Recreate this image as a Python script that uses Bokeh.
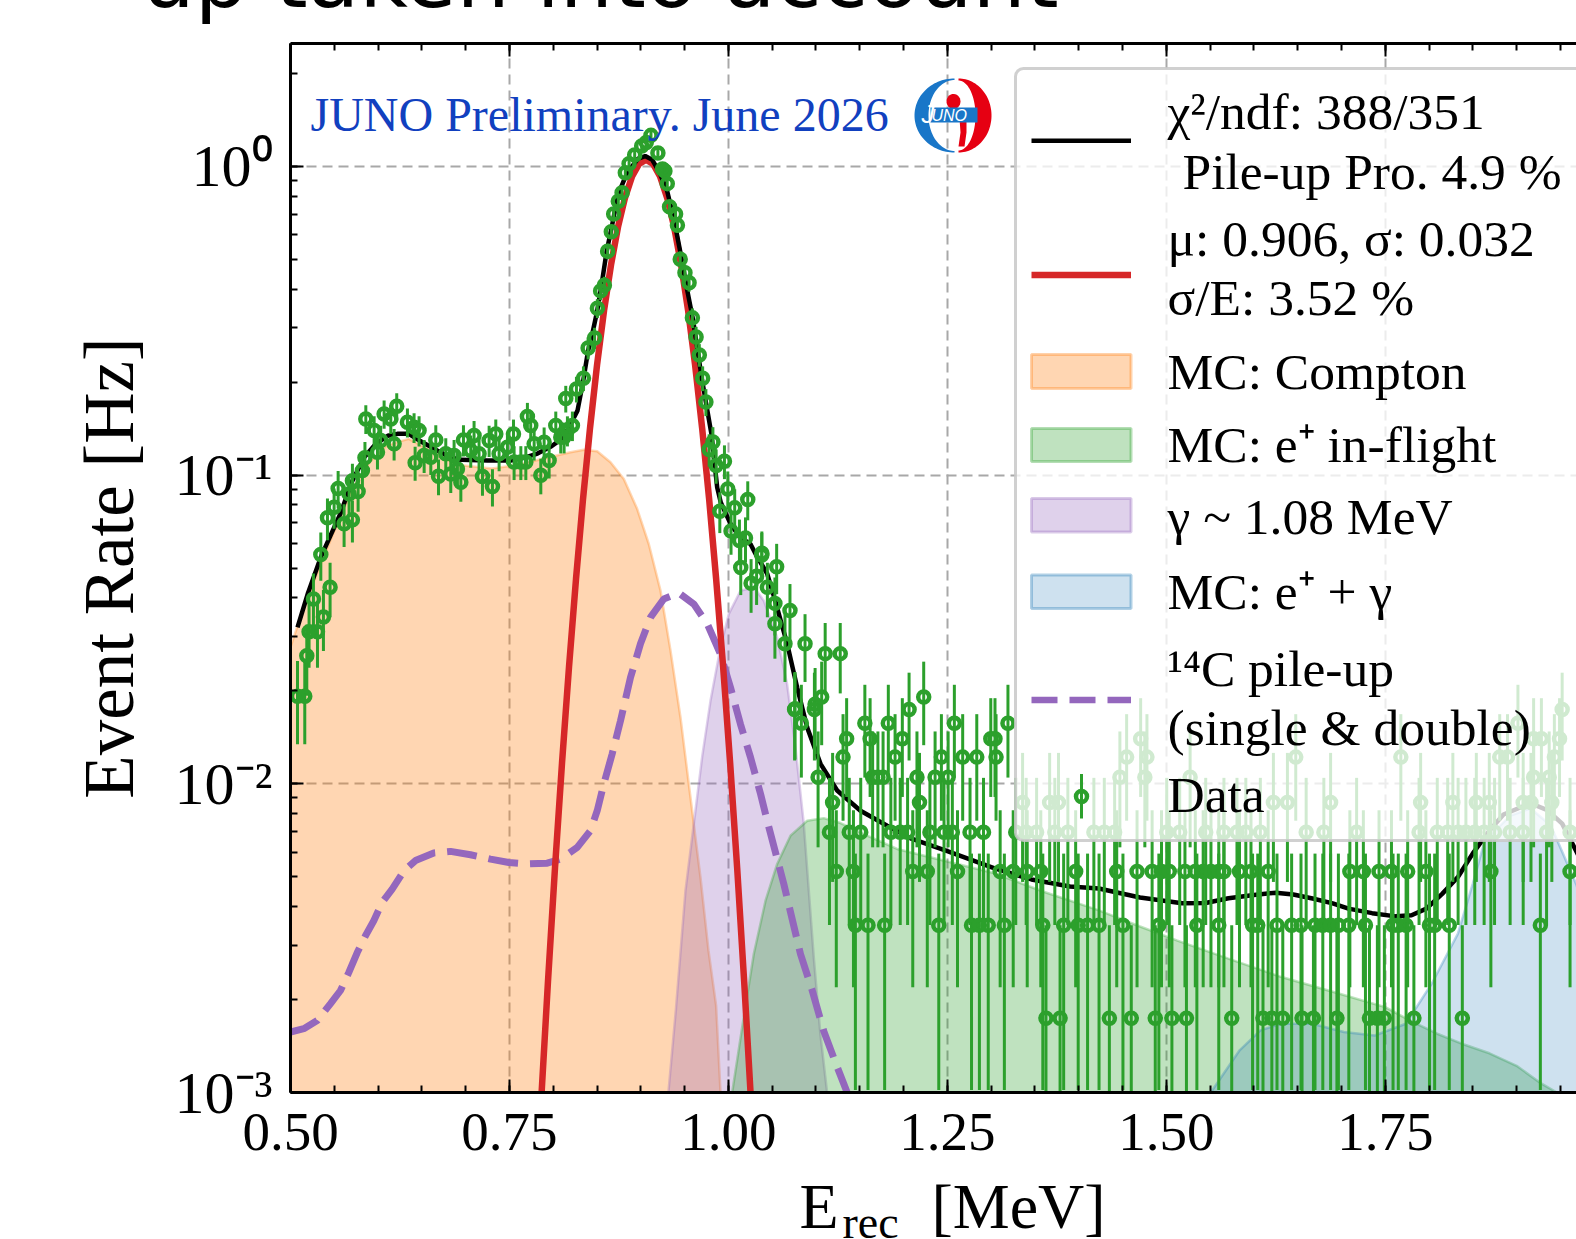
import numpy as np
from bokeh.plotting import figure
from bokeh.embed import file_html
from bokeh.resources import INLINE
from bokeh.models import (LinearAxis, SingleIntervalTicker, Label, BoxAnnotation, Range1d, NumeralTickFormatter)

# ---------- values ----------
compton_x = [0.5,0.514,0.53,0.55,0.57,0.59,0.61,0.635,0.66,0.69,0.73,0.76,0.80,0.8197,0.8349,0.8502,0.8654,0.8806,0.8959,0.9091,0.9225,0.9339,0.9453,0.9548,0.9624,0.9681,0.9773,0.986,0.991]
compton_y = [0.0277,0.0365,0.048,0.066,0.09,0.11,0.125,0.131,0.120,0.108,0.105,0.108,0.115,0.1185,0.1208,0.1194,0.11,0.0971,0.0776,0.0598,0.0422,0.027,0.0164,0.00998,0.0067,0.00498,0.00288,0.00191,0.001]

gamma_x = [0.9315,0.94,0.951,0.9605,0.97,0.9796,0.991,1.0005,1.0138,1.029,1.0404,1.0557,1.0671,1.0766,1.0861,1.0975,1.105,1.1127]
gamma_y = [0.001,0.00185,0.00451,0.00741,0.0122,0.0186,0.0277,0.0355,0.0422,0.0433,0.0392,0.0298,0.021,0.0131,0.00741,0.00274,0.00155,0.001]

inflight_x = [1.0043,1.0158,1.029,1.0424,1.0557,1.0709,1.09,1.1089,1.128,1.1585,1.1927,1.25,1.304,1.36,1.423,1.47,1.512,1.57,1.6307,1.69,1.75,1.78,1.8094,1.84,1.869,1.90,1.928,1.946]
inflight_y = [0.001,0.00163,0.00281,0.00418,0.0055,0.00679,0.00759,0.00774,0.00746,0.00679,0.00615,0.0056,0.00513,0.00447,0.00389,0.00345,0.00311,0.00272,0.00237,0.00212,0.00189,0.0017,0.00155,0.00143,0.00134,0.00122,0.00107,0.001]

annih_x = [1.5508,1.5837,1.6075,1.6307,1.6668,1.7027,1.738,1.7735,1.803,1.833,1.85,1.8637,1.893,1.916,1.939,1.9687,1.98]
annih_y = [0.001,0.00137,0.00159,0.00167,0.00167,0.00157,0.00153,0.00167,0.00225,0.00327,0.00475,0.00655,0.00789,0.00832,0.00733,0.00468,0.0035]

pileup_x = [0.5,0.5152,0.5305,0.5457,0.5571,0.5666,0.5762,0.5856,0.5951,0.6047,0.6161,0.6294,0.6427,0.6636,0.6827,0.7055,0.7284,0.7493,0.7703,0.7931,0.8083,0.8274,0.8425,0.8502,0.8577,0.8673,0.8768,0.8882,0.8996,0.911,0.9262,0.9434,0.9605,0.9758,0.991,1.0024,1.0138,1.0252,1.0367,1.0443,1.0633,1.0823,1.0957,1.1089,1.1242,1.1356]
pileup_y = [0.00157,0.00161,0.00171,0.00194,0.00214,0.00245,0.00284,0.00322,0.0036,0.00413,0.00456,0.00522,0.00564,0.00597,0.00604,0.00589,0.0057,0.00556,0.0055,0.00553,0.0057,0.00622,0.00705,0.00818,0.00998,0.0125,0.016,0.0221,0.0284,0.0346,0.0397,0.0415,0.0382,0.033,0.0263,0.0205,0.0156,0.0122,0.00927,0.00759,0.00473,0.00281,0.00214,0.00158,0.00121,0.001]

peak_x = [0.786,0.794,0.802,0.81,0.818,0.826,0.834,0.842,0.85,0.858,0.866,0.874,0.882,0.89,0.898,0.906,0.914,0.922,0.93,0.938,0.946,0.954,0.962,0.97,0.978,0.986,0.994,1.002,1.01,1.018,1.026]
peak_y = [0.00092,0.00229,0.00534,0.01166,0.0239,0.0461,0.0836,0.142,0.227,0.341,0.48,0.637,0.792,0.927,1.018,1.05,1.018,0.927,0.792,0.637,0.48,0.341,0.227,0.142,0.0836,0.0461,0.0239,0.01166,0.00534,0.00229,0.00092]

total_x = [0.508,0.52,0.5346,0.546,0.557,0.57,0.584,0.597,0.611,0.622,0.635,0.65,0.668,0.68,0.694,0.725,0.7515,0.77,0.782,0.798,0.812,0.8277,0.834,0.8397,0.845,0.85,0.855,0.861,0.867,0.874,0.882,0.89,0.897,0.905,0.913,0.921,0.93,0.938,0.9457,0.952,0.9595,0.9698,0.9806,0.9872,0.9913,1.0024,1.0125,1.0252,1.0315,1.0443,1.0524,1.0671,1.0785,1.09,1.1052,1.1242,1.1508,1.1813,1.209,1.25,1.304,1.346,1.39,1.423,1.47,1.518,1.545,1.571,1.6,1.625,1.645,1.667,1.69,1.708,1.735,1.762,1.78,1.797,1.815,1.833,1.85,1.869,1.885,1.916,1.935,1.952,1.97,1.985]
total_y = [0.0321,0.0415,0.0542,0.064,0.075,0.095,0.114,0.126,0.134,0.136,0.136,0.128,0.12,0.115,0.112,0.1114,0.1114,0.1145,0.1174,0.124,0.1325,0.1617,0.2,0.252,0.29,0.338,0.41,0.531,0.64,0.81,0.92,1.0,1.06,1.08,1.05,0.96,0.834,0.67,0.517,0.41,0.32,0.204,0.136,0.0912,0.0815,0.0695,0.0632,0.0598,0.0552,0.0479,0.0401,0.0284,0.0205,0.0152,0.0116,0.00951,0.00818,0.00731,0.00664,0.00605,0.00532,0.0049,0.00465,0.00458,0.00428,0.0041,0.00411,0.00426,0.00436,0.00444,0.00438,0.00425,0.0041,0.00394,0.00381,0.00372,0.00375,0.00394,0.0044,0.00499,0.00595,0.00706,0.00795,0.00865,0.00822,0.00743,0.0059,0.0045]

# data points, below 1.13 MeV read one by one
low_x = [0.508,0.5163,0.5186,0.5212,0.5308,0.5262,0.5376,0.5346,0.5452,0.5422,0.5498,0.5544,0.5612,0.5707,0.5669,0.5772,0.5707,0.5821,0.585,0.5993,0.586,0.5955,0.6069,0.6145,0.6213,0.6183,0.603,0.6335,0.6411,0.6468,0.6423,0.6526,0.6602,0.6659,0.669,0.683,0.6773,0.6868,0.6906,0.6945,0.6975,0.7096,0.7058,0.7153,0.7192,0.7268,0.7306,0.7344,0.7382,0.7477,0.7546,0.7553,0.763,0.7687,0.7705,0.7743,0.7782,0.7858,0.7896,0.7953,0.8029,0.8086,0.8124,0.8219,0.8162,
         0.8143,0.8265,0.8345,0.8398,0.8472,0.8504,0.8541,0.8584,0.8621,0.8663,0.869,0.8743,0.8786,0.8823,0.8866,0.893,0.901,0.9062,0.9116,0.9195,0.9248,0.9275,0.9302,0.9328,0.9397,0.9418,0.945,0.9504,0.9551,0.9589,0.9631,0.9668,0.9706,0.9743,0.978,0.9823,0.986,0.9955,0.9993,1.0072,0.9902,1.003,1.0126,1.0195,1.0221,1.0381,1.0551,1.0141,1.0259,1.0322,1.0445,1.0382,1.0531,1.0703,1.0531,1.0646,1.0875,1.1105,1.1277,1.0761,1.099]
low_y = [0.0192,0.0192,0.026,0.0311,0.0311,0.0397,0.0347,0.0553,0.0433,0.0727,0.0787,0.0905,0.0695,0.0716,0.0869,0.0885,0.0959,0.1034,0.1138,0.1186,0.152,0.1394,0.1577,0.152,0.167,0.1262,0.1295,0.1483,0.1429,0.1394,0.1096,0.1157,0.1142,0.13,0.0991,0.1008,0.1172,0.1157,0.1047,0.0948,0.13,0.1343,0.12,0.1172,0.0989,0.1294,0.0918,0.1359,0.1172,0.123,0.1359,0.1102,0.1102,0.1102,0.1549,0.1447,0.1262,0.0998,0.1277,0.1114,0.1447,0.1327,0.1327,0.1447,0.1394,
         0.177,0.19,0.206,0.258,0.278,0.347,0.395,0.412,0.531,0.614,0.701,0.771,0.822,0.953,1.02,1.089,1.164,1.194,1.26,1.104,0.98,0.966,0.879,0.74,0.701,0.644,0.5,0.452,0.42,0.323,0.28,0.245,0.206,0.1725,0.121,0.128,0.1074,0.1109,0.0902,0.0783,0.0764,0.0659,0.0614,0.0625,0.0834,0.0551,0.0505,0.0502,0.0446,0.047,0.0433,0.0558,0.0384,0.0364,0.033,0.0284,0.0284,0.0264,0.0264,0.0175,0.0181]

# above 1.07 MeV the rate takes discrete levels (1, 2, 3 ... counts)
level_rates = [0.00174,0.00348,0.0052,0.00697,0.0087,0.0105,0.0122,0.014,0.0157,0.0174,0.0191]
level_x = [
 [1.3626,1.3787,1.435,1.46,1.4874,1.5064,1.523,1.5747,1.6104,1.6205,1.633,1.655,1.668,1.6948,1.732,1.741,1.749,1.7827,1.838],
 [1.145,1.1594,1.1784,1.2402,1.2776,1.2866,1.2967,1.3151,1.359,1.3828,1.3994,1.4101,1.4232,1.4505,1.4915,1.5349,1.5599,1.5985,1.6044,1.6264,1.6431,1.6538,1.6698,1.6787,1.6876,1.6965,1.7084,1.7274,1.7589,1.7649,1.7738,1.8005,1.8064,1.8231,1.9271],
 [1.1232,1.1428,1.2105,1.2271,1.2616,1.3103,1.3252,1.3412,1.3567,1.3965,1.4434,1.4666,1.4838,1.4945,1.5034,1.5213,1.5331,1.5421,1.551,1.5599,1.5658,1.5836,1.5967,1.6163,1.7096,1.725,1.7429,1.7571,1.7756,1.7964,1.8706,1.961],
 [1.1154,1.138,1.1511,1.1855,1.1962,1.2046,1.2301,1.2462,1.2557,1.2759,1.2913,1.3281,1.34,1.3519,1.3727,1.3876,1.4173,1.4292,1.441,1.5005,1.5153,1.545,1.5658,1.5807,1.5908,1.6074,1.6597,1.6799,1.7173,1.7886,1.8094,1.8213,1.8332,1.8421,1.8522,1.8629,1.8748,1.8926,1.9075,1.9342,1.961],
 [1.119,1.2182,1.3359,1.3668,1.3769,1.6223,1.6383,1.6876,1.7904,1.8272,1.854,1.8688,1.9075,1.9164,1.9402],
 [1.1024,1.1647,1.1707,1.1766,1.2153,1.236,1.2509,1.447,1.4755,1.5272,1.9194,1.9372],
 [1.1309,1.1903,1.2432,1.2675,1.2836,1.3056,1.4547,1.4779,1.6478,1.7678,1.8807,1.8896,1.9431],
 [1.135,1.1618,1.1986,1.2996,1.3044,1.4707,1.9194,1.9283,1.949],
 [1.0833,1.1558,1.1826,1.258,1.3192,1.9015],
 [1.0756,1.0982,1.2063,1.952],
 [1.1065,1.223],
]

x_tick_interval = 0.25
y_tick_labels = {1: "10\u2070", 0.1: "10\u207b\u00b9", 0.01: "10\u207b\u00b2", 0.001: "10\u207b\u00b3"}
count_rate = 0.00174

# ---------- page geometry ----------
PAGE_W, PAGE_H = 1576, 1239
F_L, F_T, F_B = 290, 43, 1092
# the canvas is taller than the frame needs: side-panel labels (title, x label) take room there
TOP_BORDER, BOTTOM_BORDER = 110, 200
W, H = PAGE_W, TOP_BORDER + (F_B - F_T) + BOTTOM_BORDER
PX_PER_MEV = 875.8
X0, X1 = 0.5, 0.5 + (PAGE_W - F_L) / PX_PER_MEV
Y0, Y1 = 1e-3, 2.5
dec = (F_B - F_T) / np.log10(Y1 / Y0)

def dx(X):
    return X0 + (np.asarray(X, dtype=float) - F_L) / PX_PER_MEV
def dy(Y):
    return Y0 * 10 ** ((F_B - np.asarray(Y, dtype=float)) / dec)

SERIF = "Liberation Serif"

p = figure(width=W, height=H, output_backend="svg", toolbar_location=None,
           y_axis_type="log", x_range=Range1d(X0, X1), y_range=Range1d(Y0, Y1),
           min_border_left=F_L, min_border_right=0, min_border_top=TOP_BORDER,
           min_border_bottom=BOTTOM_BORDER, margin=(F_T - TOP_BORDER, 0, 0, 0),
           outline_line_color=None, background_fill_color="white", border_fill_color="white")

ticker = SingleIntervalTicker(interval=x_tick_interval, num_minor_ticks=5)

def style_ticks(ax):
    ax.major_tick_in = 13; ax.major_tick_out = 0
    ax.minor_tick_in = 7; ax.minor_tick_out = 0
    ax.major_tick_line_width = 2; ax.minor_tick_line_width = 2
    ax.major_tick_line_color = "black"; ax.minor_tick_line_color = "black"
    ax.axis_line_width = 3; ax.axis_line_color = "black"

xa = p.xaxis[0]
xa.ticker = ticker
style_ticks(xa)
xa.formatter = NumeralTickFormatter(format="0.00")
xa.major_label_text_font = SERIF
xa.major_label_text_font_size = "55px"
xa.major_label_standoff = 21
xa.major_label_text_color = "black"

ya = p.yaxis[0]
style_ticks(ya)
ya.ticker.num_minor_ticks = 10
ya.major_label_overrides = y_tick_labels
ya.major_label_text_font = SERIF
ya.major_label_text_font_size = "60px"
ya.major_label_standoff = 18
ya.major_label_text_color = "black"
ya.axis_label = "Event Rate [Hz]"
ya.axis_label_text_font = SERIF
ya.axis_label_text_font_style = "normal"
ya.axis_label_text_font_size = "71px"
ya.axis_label_text_color = "black"
ya.axis_label_standoff = 24

top = LinearAxis(ticker=ticker, major_label_text_font_size="1px", major_label_text_color=None)
style_ticks(top)
p.add_layout(top, "above")

for g in (p.xgrid[0], p.ygrid[0]):
    g.grid_line_color = "#a8a8a8"
    g.grid_line_width = 2
    g.grid_line_dash = "10 6"
    g.minor_grid_line_color = None
p.xgrid[0].ticker = ticker

# ---------- fills ----------
fills = [(compton_x, compton_y, "#ff7f0e", 0.32),
         (gamma_x, gamma_y, "#9467bd", 0.3),
         (inflight_x, inflight_y, "#2ca02c", 0.3),
         (annih_x, annih_y, "#1f77b4", 0.22)]
for fx, fy, col, al in fills:
    p.varea(x=fx, y1=[Y0] * len(fx), y2=fy, fill_color=col, fill_alpha=al)
    p.line(fx, fy, line_color=col, line_alpha=0.3, line_width=2.5)

p.line(pileup_x, pileup_y, line_color="#9467bd", line_width=7, line_dash="30 12")
p.line(peak_x, peak_y, line_color="#d62728", line_width=6.5)
p.line(total_x, total_y, line_color="black", line_width=4.5)

# ---------- data ----------
all_x = list(low_x)
all_y = list(low_y)
for rate, xs in zip(level_rates, level_x):
    all_x += xs
    all_y += [rate] * len(xs)
all_x = np.array(all_x); all_y = np.array(all_y)
err = np.sqrt(all_y * count_rate)   # Poisson error of the counts behind each rate
GREEN = "#2ca02c"
p.segment(all_x, np.maximum(all_y - err, 1e-5), all_x, all_y + err, line_color=GREEN, line_width=3)
p.scatter(all_x, all_y, marker="circle", size=11, line_width=4.5, line_color=GREEN, fill_color=None)

# ---------- texts over the plot ----------
BASE = 0.31   # Label draws its alphabetic baseline this many em under the anchor
def text(X, Y, s, size, color="black", font=SERIF, style="normal"):
    p.add_layout(Label(x=float(dx(X)), y=float(dy(Y - BASE * size)), text=s, text_font=font,
                       text_font_size=f"{size}px", text_color=color, text_font_style=style,
                       text_baseline="alphabetic", text_align="left"))

# labels in the side panels are not clipped to the frame
def side_text(place, x_from_frame, y_up, s, size, font=SERIF):
    p.add_layout(Label(x=x_from_frame, y=y_up, x_units="screen", y_units="screen", text=s,
                       text_font=font, text_font_size=f"{size}px", text_color="black",
                       text_baseline="alphabetic", text_align="left"), place)

text(310, 129, "JUNO Preliminary. June 2026", 48, color="#1140bf")
side_text("above", 141 - F_L, 66, "up taken into account", 84, font="DejaVu Sans")

# x-axis label: E with subscript rec, then the unit
side_text("below", 799 - F_L, 17, "E\u00a0\u00a0\u00a0\u00a0\u00a0\u2009[MeV]", 64)
side_text("below", 842 - F_L, 52, "rec", 46)

# Logo
t = np.linspace(-np.pi / 2, np.pi / 2, 60)
def crescent(cx_o, rx_o, ry_o, cx_i, rx_i, ry_i, sign):
    ox = cx_o + sign * rx_o * np.cos(t); oy = 115 + ry_o * np.sin(t)
    ix = cx_i + sign * rx_i * np.cos(t[::-1]); iy = 115 + ry_i * np.sin(t[::-1])
    return np.r_[ox, ix], np.r_[oy, iy]
bx, by = crescent(954, 40, 37, 954, 26, 35.5, -1)
rx, ry = crescent(958, 33, 37, 958, 17, 35, 1)
p.patch(dx(bx), dy(by), fill_color="#1976c8", line_color=None)
p.patch(dx(rx), dy(ry), fill_color="#e60012", line_color=None)
p.patch(dx([959, 966, 966, 964, 958, 960]), dy([118, 118, 132, 146, 146, 132]), fill_color="#e60012", line_color=None)
dt = np.linspace(0, 2 * np.pi, 30)
p.patch(dx(953 + 7 * np.cos(dt)), dy(101 + 7.5 * np.sin(dt)), fill_color="#e60012", line_color=None)
p.add_layout(BoxAnnotation(left=float(dx(930)), right=float(dx(977)), top=float(dy(107)), bottom=float(dy(122)),
                           fill_color="#1976c8", fill_alpha=1, line_color=None))
text(921, 122, "J", 26, color="white", font="Liberation Sans", style="italic")
text(931, 120, "UNO", 16, color="white", font="Liberation Sans", style="italic")

# ---------- legend ----------
p.add_layout(BoxAnnotation(left=float(dx(1015)), right=float(dx(PAGE_W + 20)), top=float(dy(68)), bottom=float(dy(840)),
                           fill_color="white", fill_alpha=0.78, line_color="#c8c8c8", line_alpha=0.85,
                           line_width=3, border_radius=8))

LX0, LX1 = 1031, 1130.5
samples = [(140.3, "black", 4.5, "solid"), (274.5, "#d62728", 6.5, "solid"), (699.5, "#9467bd", 6.5, "26 12")]
for Y, col, lw, dash in samples:
    p.line(dx([LX0, LX1]), dy([Y, Y]), line_color=col, line_width=lw, line_dash=dash, level="overlay")

for (Ya, Yb), col, al in [((354, 388), "#ff7f0e", 0.32), ((428, 461), "#2ca02c", 0.3),
                          ((498, 531.5), "#9467bd", 0.3), ((574.5, 608), "#1f77b4", 0.22)]:
    p.add_layout(BoxAnnotation(left=float(dx(LX0)), right=float(dx(LX1)), top=float(dy(Ya)), bottom=float(dy(Yb)),
                               fill_color=col, fill_alpha=al, line_color=col, line_alpha=0.35, line_width=3))

p.line(dx([1081, 1081]), dy([773.5, 818]), line_color=GREEN, line_width=3, level="overlay")
p.scatter([float(dx(1081))], [float(dy(796))], marker="circle", size=11, line_width=4.5,
          line_color=GREEN, fill_color=None, level="overlay")

LT = 1167
LEG = 51.5
for X, Y, s in [(LT, 126.5, "\u03c7\u00b2/ndf: 388/351"),
                (1182, 186.7, "Pile-up Pro. 4.9 %"),
                (LT, 254, "\u03bc: 0.906, \u03c3: 0.032"),
                (LT, 312.8, "\u03c3/E: 3.52 %"),
                (LT, 386.7, "MC: Compton"),
                (LT, 459.7, "MC: e\u207a in-flight"),
                (LT, 532, "\u03b3 ~ 1.08 MeV"),
                (LT, 607, "MC: e\u207a + \u03b3"),
                (LT, 684, "\u00b9\u2074C pile-up"),
                (LT, 743, "(single & double)"),
                (LT, 810, "Data")]:
    text(X, Y, s, LEG)

open("out.html", "w").write(file_html(p, INLINE))
